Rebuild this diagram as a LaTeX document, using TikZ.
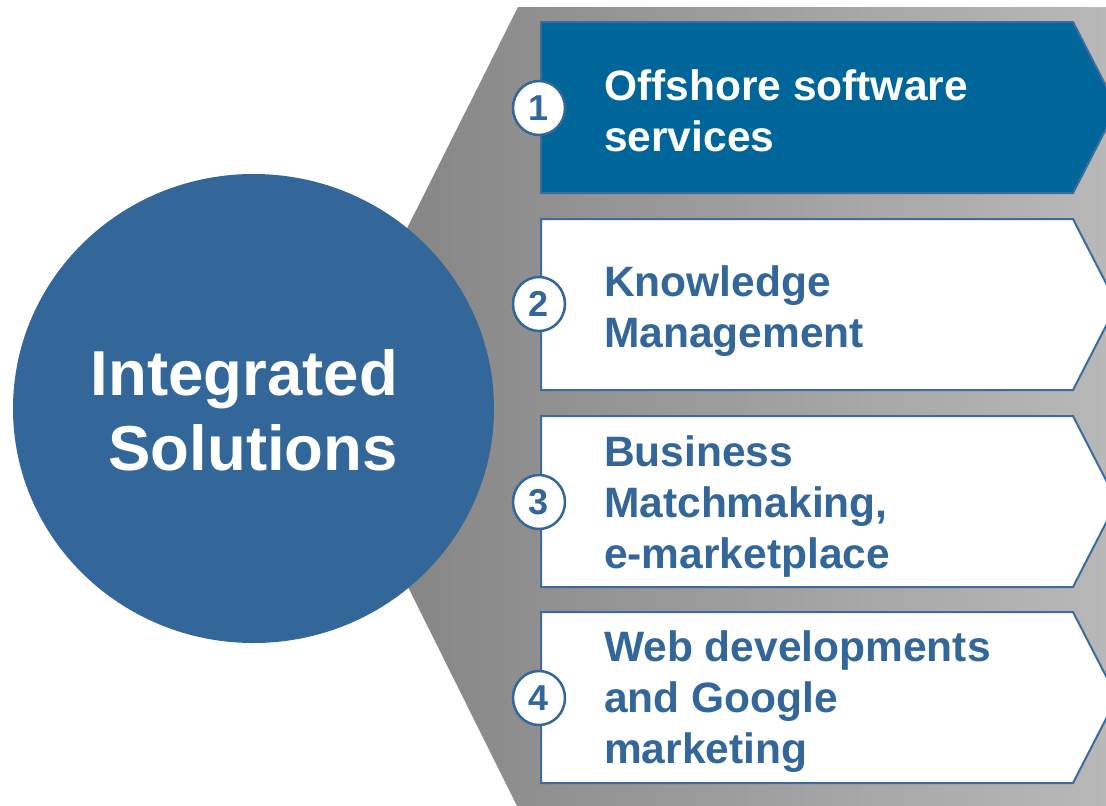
\documentclass[tikz,border=0pt]{standalone}
\usepackage{fontspec}
\setmainfont{Liberation Sans}
\usetikzlibrary{shapes.geometric}
\definecolor{cblue}{RGB}{51,102,153}
\definecolor{cbox}{RGB}{0,102,153}
\definecolor{cedge}{RGB}{60,108,158}
\definecolor{gleft}{RGB}{128,128,128}
\definecolor{gright}{RGB}{184,184,184}
\tikzset{
  itembox/.style={draw=cedge, line width=2pt, fill=white, line join=miter},
  firstbox/.style={draw=cedge, line width=2pt, fill=cbox, line join=miter},
  numcirc/.style={ellipse, draw=cblue, line width=2.5pt, fill=white, minimum width=52pt, minimum height=54pt, inner sep=0pt,
    font=\bfseries\fontsize{36}{40}\selectfont, text=cblue},
  itemtext/.style={anchor=base west, inner sep=0pt, font=\bfseries\fontsize{42.5}{51}\selectfont, text=cblue},
  hubtext/.style={anchor=base east, inner sep=0pt, font=\bfseries\fontsize{63.5}{75}\selectfont, text=white}
}
\begin{document}
\begin{tikzpicture}[x=1pt,y=-1pt]
\useasboundingbox (0,0) rectangle (1106,806);
\fill[white] (0,0) rectangle (1106,806);
% gray band
\shade[left color=gleft, right color=gright] (518,7) -- (1106,7) -- (1106,806) -- (517,806) -- (318,406) -- cycle;
% hub circle
\node[ellipse, fill=cblue, minimum width=481pt, minimum height=469pt, inner sep=0pt] (hub) at (253.5,408.5) {};
\node[hubtext] (hubt) at (398,395) {\begin{tabular}[t]{@{}r@{}}Integrated\\Solutions\end{tabular}};
% boxes
\path[firstbox] (541,22) -- (1073,22) -- (1117,107.5) -- (1073,193) -- (541,193) -- cycle;
\path[itembox] (541,219) -- (1073,219) -- (1117,304.5) -- (1073,390) -- (541,390) -- cycle;
\path[itembox] (541,416) -- (1073,416) -- (1117,501.5) -- (1073,587) -- (541,587) -- cycle;
\path[itembox] (541,612) -- (1073,612) -- (1117,697.5) -- (1073,783) -- (541,783) -- cycle;
% texts
\node[itemtext, text=white] (t1) at (604,100) {\begin{tabular}[t]{@{}l@{}}Offshore software\\services\end{tabular}};
\node[itemtext] (t2) at (604,296) {\begin{tabular}[t]{@{}l@{}}Knowledge\\Management\end{tabular}};
\node[itemtext] (t3) at (604,466) {\begin{tabular}[t]{@{}l@{}}Business\\Matchmaking,\\e-marketplace\end{tabular}};
\node[itemtext] (t4) at (604,661) {\begin{tabular}[t]{@{}l@{}}Web developments\\and Google\\marketing\end{tabular}};
% numbers
\node[numcirc] (n1) at (539,108) {1};
\node[numcirc] (n2) at (539,304) {2};
\node[numcirc] (n3) at (539,502) {3};
\node[numcirc] (n4) at (539,698) {4};
\end{tikzpicture}
\end{document}
